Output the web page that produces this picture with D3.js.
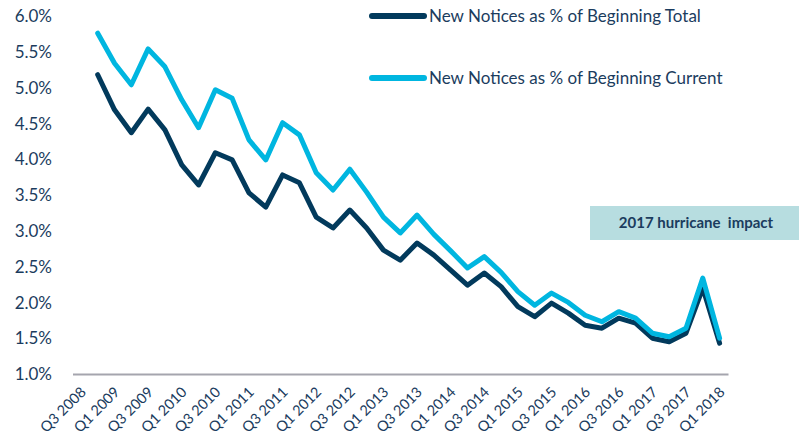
<!DOCTYPE html>
<html>
<head>
<meta charset="utf-8">
<script src="https://cdn.jsdelivr.net/npm/d3@7"></script>
<style>
  body { margin: 0; background: #fff; }
  svg { display: block; font-family: Lato, "Open Sans", sans-serif; }
</style>
</head>
<body>
<svg id="chart" width="799" height="440"></svg>
<script>
// quarters shown on the axis (first one has no data)
var quarters = [];
[2008, 2009, 2010, 2011, 2012, 2013, 2014, 2015, 2016, 2017, 2018].forEach(function (yr) {
  ['Q1', 'Q2', 'Q3', 'Q4'].forEach(function (q) { quarters.push(q + ' ' + yr); });
});
quarters = quarters.slice(quarters.indexOf('Q3 2008'), quarters.indexOf('Q1 2018') + 1);

var dataQuarters = quarters.slice(1); // Q4 2008 .. Q1 2018

var pctTotal = [5.18, 4.69, 4.37, 4.70, 4.41, 3.92, 3.64, 4.09, 3.99, 3.53,
                3.33, 3.78, 3.67, 3.19, 3.04, 3.29, 3.04, 2.73, 2.59, 2.83,
                2.66, 2.45, 2.24, 2.41, 2.22, 1.94, 1.80, 1.99, 1.85, 1.68,
                1.64, 1.78, 1.71, 1.50, 1.45, 1.57, 2.20, 1.43];
var pctCurrent = [5.76, 5.34, 5.04, 5.54, 5.29, 4.83, 4.44, 4.97, 4.85, 4.27,
                  3.99, 4.51, 4.34, 3.81, 3.57, 3.86, 3.54, 3.19, 2.97, 3.22,
                  2.95, 2.72, 2.48, 2.64, 2.42, 2.15, 1.96, 2.13, 2.00, 1.82,
                  1.73, 1.87, 1.78, 1.57, 1.52, 1.64, 2.34, 1.50];

var seriesNames = ['New Notices as % of Beginning Total', 'New Notices as % of Beginning Current'];
var seriesColors = ['#023a5c', '#00b6e0'];
var yTicks = [1.0, 1.5, 2.0, 2.5, 3.0, 3.5, 4.0, 4.5, 5.0, 5.5, 6.0];
var xTickLabels = quarters.filter(function (d, i) { return i % 2 === 0; });
var annotation = '2017 hurricane  impact';

var textColor = '#1b3c5e';
var svg = d3.select('#chart');

var x = d3.scaleBand().domain(quarters).range([72.5, 728]).padding(0);
var y = d3.scaleLinear().domain([1.0, 6.0]).range([374, 16]);
var cx = function (q) { return x(q) + x.bandwidth() / 2; };

// y axis labels (no line)
svg.append('g').selectAll('text')
  .data(yTicks).enter().append('text')
  .attr('x', 52)
  .attr('y', function (d) { return y(d); })
  .attr('dy', '0.36em')
  .attr('text-anchor', 'end')
  .attr('fill', textColor)
  .style('font-size', '17px')
  .text(function (d) { return d.toFixed(1) + '%'; });

// x axis
var xAxis = svg.append('g')
  .attr('transform', 'translate(0,374)')
  .call(d3.axisBottom(x).tickValues(xTickLabels).tickSize(0).tickPadding(0));
xAxis.select('.domain').attr('stroke', '#a5a5ae').attr('stroke-width', 2);
xAxis.selectAll('text')
  .attr('fill', textColor)
  .style('font-size', '14.5px')
  .style('font-family', 'Lato, "Open Sans", sans-serif')
  .attr('text-anchor', 'end')
  .attr('dy', '0')
  .attr('transform', 'translate(6,19) rotate(-45)');

// annotation box
svg.append('rect')
  .attr('x', 590).attr('y', 206)
  .attr('width', 209).attr('height', 34)
  .attr('fill', '#b7dde0');
svg.append('text')
  .attr('x', 696).attr('y', 223)
  .attr('dy', '0.36em')
  .attr('text-anchor', 'middle')
  .attr('fill', textColor)
  .style('font-size', '15px')
  .style('font-weight', 'bold')
  .style('white-space', 'pre')
  .text(annotation);

// lines
var line = d3.line()
  .x(function (d, i) { return cx(dataQuarters[i]); })
  .y(function (d) { return y(d); });

[pctTotal, pctCurrent].forEach(function (vals, k) {
  svg.append('path')
    .datum(vals)
    .attr('d', line)
    .attr('fill', 'none')
    .attr('stroke', seriesColors[k])
    .attr('stroke-width', 5)
    .attr('stroke-linejoin', 'round')
    .attr('stroke-linecap', 'round');
});

// legend
var legend = svg.append('g').selectAll('g')
  .data(seriesNames).enter().append('g')
  .attr('transform', function (d, i) { return 'translate(372,' + (16 + i * 62) + ')'; });
legend.append('line')
  .attr('x1', 0).attr('x2', 52)
  .attr('stroke', function (d, i) { return seriesColors[i]; })
  .attr('stroke-width', 6)
  .attr('stroke-linecap', 'round');
legend.append('text')
  .attr('x', 57)
  .attr('dy', '0.36em')
  .attr('fill', textColor)
  .style('font-size', '17px')
  .text(function (d) { return d; });
</script>
</body>
</html>
